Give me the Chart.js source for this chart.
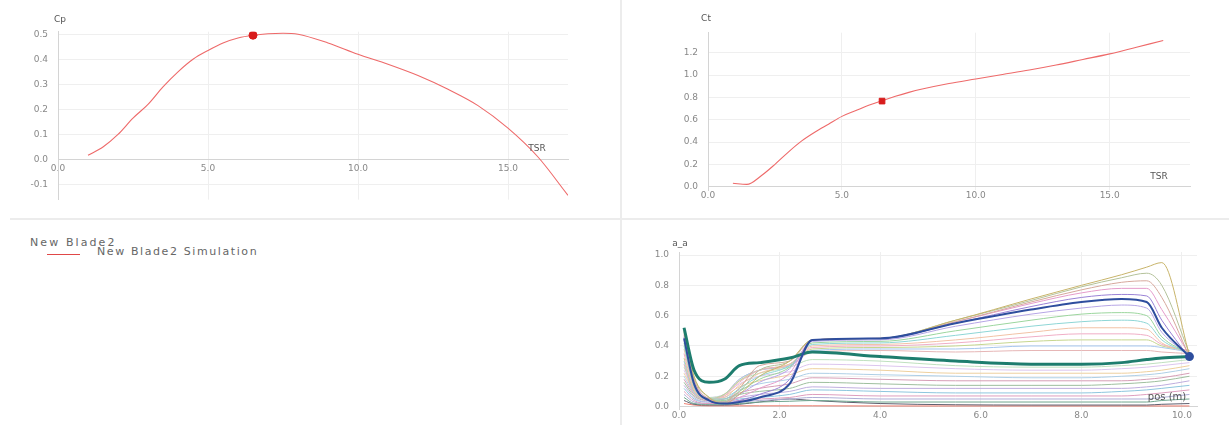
<!DOCTYPE html>
<html>
<head>
<meta charset="utf-8">
<script src="https://cdn.jsdelivr.net/npm/chart.js@4.4.1/dist/chart.umd.min.js"></script>
<style>
  body { margin:0; background:#fff; width:1229px; height:425px; overflow:hidden; position:relative; font-family:"DejaVu Sans", sans-serif; }
  .box { position:absolute; }
  #cpBox { left:0; top:0; width:615px; height:215px; }
  #ctBox { left:625px; top:0; width:604px; height:215px; }
  #aaBox { left:625px; top:222px; width:604px; height:203px; }
  .vline { position:absolute; left:620px; top:0; width:2px; height:425px; background:#ececec; }
  .hline { position:absolute; left:10px; top:218px; width:1219px; height:2px; background:#ececec; }
  .leg { position:absolute; color:#666; font-size:11px; line-height:13px; letter-spacing:1.6px; white-space:nowrap; }
  .legline { position:absolute; left:47px; top:254px; width:33px; height:1px; background:#e04848; }
</style>
</head>
<body>
<div class="vline"></div>
<div class="hline"></div>
<div class="box" id="cpBox"><canvas id="cpChart"></canvas></div>
<div class="box" id="ctBox"><canvas id="ctChart"></canvas></div>
<div class="box" id="aaBox"><canvas id="aaChart"></canvas></div>
<div class="leg" style="left:30px; top:236px; letter-spacing:2.1px;">New Blade2</div>
<div class="legline"></div>
<div class="leg" style="left:97px; top:245px;">New Blade2 Simulation</div>

<script>
// Cp - TSR
const tsrCp = [1.0, 1.5, 2.0, 2.5, 3.0, 3.5, 4.0, 4.5, 5.0, 5.5, 6.0, 6.5, 7.0, 7.5, 8.0, 9.0, 10.0, 11.0, 12.0, 13.0, 14.0, 15.0, 16.0, 17.0];
const cpValues = [0.017, 0.05, 0.10, 0.165, 0.22, 0.29, 0.35, 0.40, 0.435, 0.465, 0.485, 0.496, 0.502, 0.504, 0.50, 0.465, 0.42, 0.38, 0.335, 0.28, 0.215, 0.125, 0.01, -0.143];
const cpPoint = [6.5, 0.496];

// Ct - TSR
const tsrCt = [0.93, 1.45, 2.0, 2.5, 3.0, 3.5, 4.0, 4.5, 5.0, 5.5, 6.0, 6.5, 7.0, 7.5, 8.0, 9.0, 10.0, 11.0, 12.0, 13.0, 14.0, 15.0, 16.0, 17.0];
const ctValues = [0.03, 0.02, 0.10, 0.20, 0.31, 0.41, 0.49, 0.56, 0.63, 0.68, 0.73, 0.77, 0.81, 0.845, 0.875, 0.925, 0.965, 1.005, 1.045, 1.09, 1.14, 1.19, 1.25, 1.31];
const ctPoint = [6.5, 0.767];

// a_a along the blade, one line per TSR
const aaPos = [0.1, 0.3, 0.6, 0.9, 1.2, 1.6, 2.2, 2.65, 4.0, 5.5, 7.0, 8.0, 8.8, 9.3, 9.6, 10.15];
const aaLines = [
  [0.50,0.20,0.06,0.02,0.08,0.20,0.30,0.44, 0.45,0.57,0.71,0.80,0.87,0.92,0.95,0.34],
  [0.49,0.19,0.06,0.03,0.10,0.24,0.30,0.44, 0.45,0.57,0.70,0.79,0.85,0.88,0.80,0.35],
  [0.48,0.18,0.05,0.03,0.12,0.27,0.30,0.44, 0.45,0.56,0.69,0.77,0.82,0.83,0.72,0.33],
  [0.47,0.17,0.05,0.03,0.06,0.12,0.22,0.44, 0.45,0.56,0.68,0.75,0.78,0.78,0.64,0.34],
  [0.46,0.16,0.04,0.02,0.04,0.08,0.18,0.44, 0.45,0.55,0.66,0.72,0.74,0.73,0.57,0.32],
  [0.45,0.15,0.04,0.02,0.03,0.06,0.15,0.44, 0.45,0.55,0.64,0.69,0.71,0.69,0.52,0.33],
  [0.44,0.15,0.04,0.03,0.08,0.16,0.25,0.43, 0.44,0.53,0.61,0.65,0.67,0.65,0.49,0.34],
  [0.42,0.14,0.05,0.04,0.10,0.18,0.26,0.42, 0.43,0.50,0.57,0.61,0.62,0.60,0.46,0.35],
  [0.40,0.13,0.05,0.05,0.12,0.20,0.27,0.41, 0.42,0.47,0.53,0.56,0.57,0.55,0.44,0.35],
  [0.38,0.12,0.05,0.06,0.14,0.22,0.28,0.40, 0.41,0.44,0.49,0.52,0.52,0.51,0.42,0.36],
  [0.35,0.11,0.05,0.07,0.16,0.24,0.28,0.39, 0.40,0.42,0.46,0.48,0.48,0.47,0.41,0.37],
  [0.32,0.10,0.05,0.08,0.17,0.24,0.28,0.38, 0.39,0.40,0.43,0.44,0.44,0.44,0.40,0.37],
  [0.30,0.09,0.05,0.08,0.18,0.24,0.27,0.37, 0.38,0.38,0.40,0.40,0.40,0.40,0.39,0.36],
  [0.28,0.08,0.05,0.08,0.18,0.24,0.27,0.36, 0.37,0.36,0.37,0.37,0.37,0.37,0.36,0.35],
  [0.52,0.24,0.16,0.18,0.27,0.29,0.32,0.36, 0.33,0.30,0.28,0.28,0.29,0.31,0.32,0.33],
  [0.26,0.12,0.06,0.08,0.17,0.22,0.26,0.31, 0.30,0.27,0.26,0.26,0.27,0.28,0.29,0.31],
  [0.24,0.11,0.06,0.08,0.15,0.20,0.23,0.28, 0.27,0.25,0.24,0.24,0.25,0.26,0.27,0.29],
  [0.22,0.10,0.05,0.07,0.13,0.17,0.21,0.25, 0.24,0.22,0.22,0.22,0.22,0.23,0.24,0.27],
  [0.20,0.09,0.05,0.06,0.11,0.15,0.18,0.22, 0.21,0.20,0.19,0.19,0.20,0.21,0.22,0.25],
  [0.18,0.08,0.04,0.05,0.09,0.12,0.15,0.19, 0.18,0.17,0.17,0.17,0.17,0.18,0.19,0.22],
  [0.16,0.07,0.04,0.05,0.08,0.10,0.12,0.16, 0.15,0.14,0.14,0.14,0.15,0.16,0.17,0.20],
  [0.14,0.06,0.03,0.04,0.06,0.08,0.10,0.13, 0.12,0.12,0.12,0.12,0.12,0.13,0.14,0.17],
  [0.12,0.05,0.03,0.03,0.05,0.06,0.08,0.11, 0.10,0.09,0.09,0.09,0.10,0.11,0.12,0.14],
  [0.10,0.04,0.02,0.03,0.04,0.05,0.06,0.08, 0.07,0.07,0.07,0.07,0.07,0.08,0.09,0.11],
  [0.08,0.03,0.02,0.02,0.03,0.04,0.05,0.06, 0.05,0.05,0.05,0.05,0.05,0.05,0.06,0.08],
  [0.06,0.02,0.015,0.015,0.02,0.03,0.035,0.04, 0.03,0.03,0.03,0.03,0.03,0.03,0.04,0.05],
  [0.04,0.015,0.01,0.01,0.015,0.03,0.05,0.04, 0.02,0.012,0.01,0.01,0.01,0.01,0.015,0.02],
  [0.02,0.01,0.005,0.005,0.005,0.005,0.005,0.005, 0.004,0.004,0.004,0.004,0.004,0.004,0.004,0.004]
];
const aaColors = ['#c8b46a','#b4c29a','#d6a89c','#e59ccb','#9a82d6','#2e4e9e','#b7a6e6','#9cd69e','#8ed6d6','#f2c2a6',
  '#f0aec6','#c6d68e','#a6c6ee','#e6b6b6','#1e7d6e','#bfe0bf','#dcc6ee','#eed09e','#aecfe6','#d69eb6',
  '#9ebf9e','#bfaede','#8ec6de','#de9ebe','#aeaed6','#6ea68e','#5e5e6e','#ee7e6e'];
const blueLine = 5, tealLine = 14;

// tick labels
const cpYTicks = [-0.1, 0.0, 0.1, 0.2, 0.3, 0.4, 0.5];
const tsrTicks = [0, 5, 10, 15];
const ctYTicks = [0.0, 0.2, 0.4, 0.6, 0.8, 1.0, 1.2];
const aaYTicks = [0.0, 0.2, 0.4, 0.6, 0.8, 1.0];
const posTicks = [0, 2, 4, 6, 8, 10];

function pts(xs, ys) {
  return xs.map((x, i) => ({ x: x, y: ys[i] }));
}

const axisNames = {
  id: 'axisNames',
  afterDraw(chart, args, opts) {
    const ctx = chart.ctx, area = chart.chartArea;
    const zeroY = chart.scales.y.getPixelForValue(0);
    ctx.save();
    ctx.fillStyle = '#555';
    ctx.textAlign = 'center';
    ctx.textBaseline = 'middle';
    ctx.font = '9px "DejaVu Sans"';
    ctx.fillText(opts.y, area.left + opts.yDx, area.top - opts.yDy);
    ctx.font = opts.xFont;
    ctx.fillText(opts.x, area.right - opts.xDx, zeroY - opts.xDy);
    ctx.restore();
  }
};

function scale(min, max, ticks, fit) {
  return {
    type: 'linear',
    min: min,
    max: max,
    afterBuildTicks: s => { s.ticks = ticks.map(v => ({ value: v })); },
    afterFit: fit,
    grid: { color: '#efefef', drawTicks: false },
    border: { color: '#d4d4d4' },
    ticks: {
      autoSkip: false,
      color: '#888',
      font: { family: 'DejaVu Sans', size: 9 },
      callback: v => Number(v).toFixed(1)
    }
  };
}

function makeOptions(o) {
  const xs = scale(o.xMin, o.xMax, o.xTicks, s => { s.height = 14; });
  xs.position = { y: 0 };
  xs.ticks.padding = 4;
  const ys = scale(o.yMin, o.yMax, o.yTicks, s => { s.width = o.yWidth; });
  ys.position = 'left';
  ys.ticks.padding = 10;
  return {
    responsive: true,
    maintainAspectRatio: false,
    animation: false,
    layout: { padding: o.pad },
    plugins: {
      legend: { display: false },
      tooltip: { enabled: false },
      axisNames: o.names
    },
    scales: { x: xs, y: ys }
  };
}

new Chart(document.getElementById('cpChart'), {
  type: 'line',
  data: {
    datasets: [
      { data: [{ x: cpPoint[0], y: cpPoint[1] }], showLine: false, pointRadius: 4, pointStyle: 'circle',
        backgroundColor: '#d81c1c', borderColor: '#d81c1c', order: 0 },
      { data: pts(tsrCp, cpValues), borderColor: '#ee6a6a', borderWidth: 1.1, pointRadius: 0,
        cubicInterpolationMode: 'monotone', order: 1 }
    ]
  },
  options: makeOptions({
    xMin: 0, xMax: 17, xTicks: tsrTicks,
    yMin: -0.16, yMax: 0.51, yTicks: cpYTicks, yWidth: 58,
    pad: { left: 0, right: 47, top: 31.7, bottom: 15.2 },
    names: { y: 'Cp', yDx: 2, yDy: 12, x: 'TSR', xDx: 31, xDy: 11, xFont: '9px "DejaVu Sans"' }
  }),
  plugins: [axisNames]
});

new Chart(document.getElementById('ctChart'), {
  type: 'line',
  data: {
    datasets: [
      { data: [{ x: ctPoint[0], y: ctPoint[1] }], showLine: false, pointRadius: 4, pointStyle: 'rect',
        backgroundColor: '#d81c1c', borderColor: '#d81c1c', order: 0 },
      { data: pts(tsrCt, ctValues), borderColor: '#ee6a6a', borderWidth: 1.1, pointRadius: 0,
        cubicInterpolationMode: 'monotone', order: 1 }
    ]
  },
  options: makeOptions({
    xMin: 0, xMax: 18, xTicks: tsrTicks,
    yMin: -0.03, yMax: 1.38, yTicks: ctYTicks, yWidth: 83,
    pad: { left: 0, right: 39, top: 32.7, bottom: 25 },
    names: { y: 'Ct', yDx: -2, yDy: 14, x: 'TSR', xDx: 31, xDy: 10, xFont: '9px "DejaVu Sans"' }
  }),
  plugins: [axisNames]
});

const aaDatasets = aaLines.map((ys, i) => {
  const thick = i === blueLine || i === tealLine;
  let radius = 0;
  if (i === blueLine) radius = ys.map((v, j) => j === ys.length - 1 ? 3.5 : 0);
  return {
    data: pts(aaPos, ys),
    borderColor: aaColors[i],
    backgroundColor: aaColors[i],
    borderWidth: i === tealLine ? 3 : (i === blueLine ? 2 : 1),
    pointRadius: radius,
    cubicInterpolationMode: 'monotone',
    order: thick ? 0 : 1
  };
});

new Chart(document.getElementById('aaChart'), {
  type: 'line',
  data: { datasets: aaDatasets },
  options: makeOptions({
    xMin: 0, xMax: 10.3, xTicks: posTicks,
    yMin: -0.02, yMax: 1.02, yTicks: aaYTicks, yWidth: 54,
    pad: { left: 0, right: 32, top: 30, bottom: 3 },
    names: { y: 'a_a', yDx: 1, yDy: 8, x: 'pos (m)', xDx: 30, xDy: 9, xFont: '10px "DejaVu Sans"' }
  }),
  plugins: [axisNames]
});
</script>
</body>
</html>
